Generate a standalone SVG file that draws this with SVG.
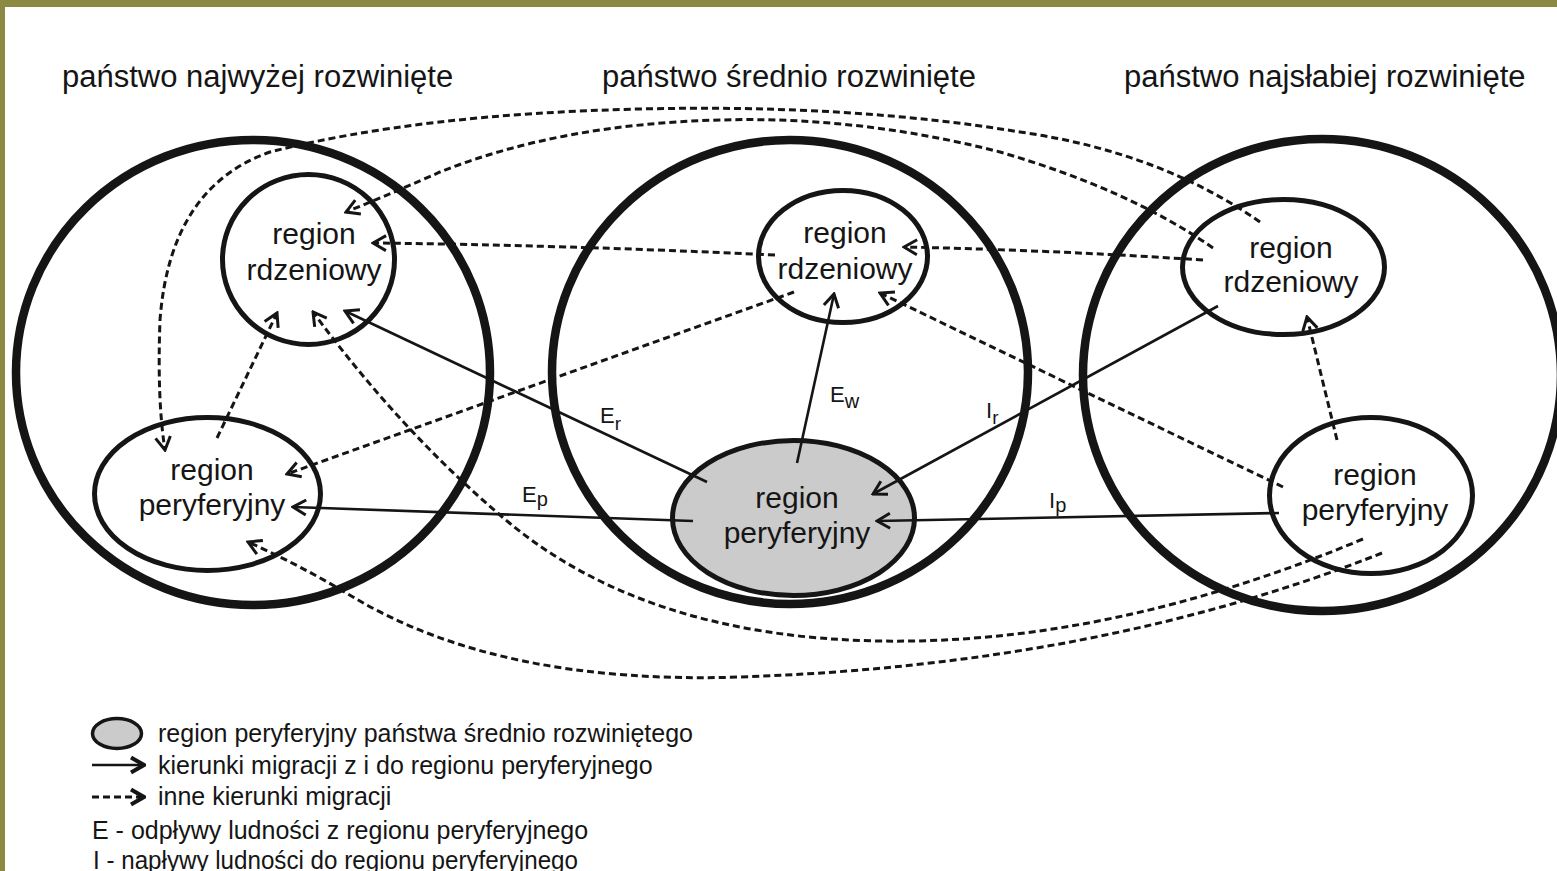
<svg xmlns="http://www.w3.org/2000/svg" width="1557" height="871" viewBox="0 0 1557 871">
<style>
.t{font-family:"Liberation Sans",Arial,sans-serif;fill:#151515}
.title{font-size:31px}
.lbl{font-size:30px;text-anchor:middle}
.sub{font-size:22px}
.leg{font-size:25px}
.big{fill:none;stroke:#151515;stroke-width:8.5}
.reg{fill:none;stroke:#151515;stroke-width:5}
.solid{fill:none;stroke:#151515;stroke-width:2.6}
.dash{fill:none;stroke:#151515;stroke-width:3;stroke-dasharray:7 4}
</style>
<defs>
<marker id="ah" viewBox="-15 -10 17 20" refX="0" refY="0" markerWidth="17" markerHeight="20" markerUnits="userSpaceOnUse" orient="auto">
<path d="M-13,-7.5 L0,0 L-13,7.5" fill="none" stroke="#151515" stroke-width="3" stroke-dasharray="none"/>
</marker>
<marker id="ahb" viewBox="-15 -10 17 20" refX="0" refY="0" markerWidth="17" markerHeight="20" markerUnits="userSpaceOnUse" orient="auto">
<path d="M-13,-7.5 L0,0 L-13,7.5" fill="none" stroke="#151515" stroke-width="4" stroke-dasharray="none"/>
</marker>
</defs>
<rect x="0" y="0" width="1557" height="871" fill="#8c8943"/>
<rect x="5" y="7" width="1552" height="864" fill="#ffffff"/>

<g id="titles">
<text class="t title" x="62" y="87">państwo najwyżej rozwinięte</text>
<text class="t title" x="602" y="87">państwo średnio rozwinięte</text>
<text class="t title" x="1124" y="87">państwo najsłabiej rozwinięte</text>
</g>

<g id="state-high"><ellipse class="big" cx="253" cy="372.5" rx="237" ry="232.5"/></g>
<g id="state-mid"><ellipse class="big" cx="790" cy="372" rx="238" ry="232"/></g>
<g id="state-low"><ellipse class="big" cx="1322" cy="375" rx="239" ry="236"/></g>

<g id="high-core">
<ellipse class="reg" cx="308.5" cy="259.5" rx="86" ry="85"/>
<text class="t lbl" x="314" y="244">region</text>
<text class="t lbl" x="314" y="280">rdzeniowy</text>
</g>
<g id="high-periphery">
<ellipse class="reg" cx="207.5" cy="494" rx="113" ry="76.5"/>
<text class="t lbl" x="212" y="480">region</text>
<text class="t lbl" x="212" y="515">peryferyjny</text>
</g>
<g id="mid-core">
<ellipse class="reg" cx="843" cy="256.5" rx="84.5" ry="66"/>
<text class="t lbl" x="845" y="243">region</text>
<text class="t lbl" x="845" y="279">rdzeniowy</text>
</g>
<g id="mid-periphery">
<ellipse class="reg" cx="793.5" cy="518" rx="121" ry="77.5" style="fill:#cbcbcb"/>
<text class="t lbl" x="797" y="508">region</text>
<text class="t lbl" x="797" y="543">peryferyjny</text>
</g>
<g id="low-core">
<ellipse class="reg" cx="1283.5" cy="267" rx="101" ry="67.5"/>
<text class="t lbl" x="1291" y="258">region</text>
<text class="t lbl" x="1291" y="292">rdzeniowy</text>
</g>
<g id="low-periphery">
<ellipse class="reg" cx="1371" cy="495.5" rx="101.5" ry="78"/>
<text class="t lbl" x="1375" y="485">region</text>
<text class="t lbl" x="1375" y="520">peryferyjny</text>
</g>

<g id="connectors">
<line class="solid" x1="707" y1="482" x2="345" y2="311" marker-end="url(#ah)"/>
<line class="solid" x1="693" y1="521" x2="293" y2="507" marker-end="url(#ah)"/>
<line class="solid" x1="797" y1="463" x2="834" y2="294" marker-end="url(#ah)"/>
<line class="solid" x1="1218" y1="306" x2="873" y2="494" marker-end="url(#ah)"/>
<line class="solid" x1="1279" y1="513" x2="877" y2="521" marker-end="url(#ah)"/>
<path class="dash" d="M1260,222 Q1160,152 1020,132 Q850,104 640,109 Q420,114 270,152 Q170,187 160,320 Q157,400 165,450" marker-end="url(#ah)"/>
<path class="dash" d="M1213,248 Q1130,190 1000,152 Q860,116 720,120 Q560,124 440,172 Q400,190 346,212" marker-end="url(#ah)"/>
<path class="dash" d="M1203,260 Q1050,250 904,247" marker-end="url(#ah)"/>
<path class="dash" d="M775,255 Q560,245 373,243" marker-end="url(#ah)"/>
<line class="dash" x1="794" y1="292" x2="287" y2="474" marker-end="url(#ah)"/>
<line class="dash" x1="1283" y1="487" x2="880" y2="293" marker-end="url(#ah)"/>
<line class="dash" x1="1337" y1="440" x2="1307" y2="317" marker-end="url(#ah)"/>
<line class="dash" x1="217" y1="438" x2="277" y2="313" marker-end="url(#ah)"/>
<path class="dash" d="M1363,539 Q1110,645 880,641 Q640,637 500,515 Q400,430 313,312" marker-end="url(#ah)"/>
<path class="dash" d="M1382,553 Q1100,665 740,677 Q500,685 353,597 Q300,565 248,542" marker-end="url(#ah)"/>
</g>

<g id="flow-labels">
<text class="t sub" x="600" y="423">E<tspan font-size="19" dy="7">r</tspan></text>
<text class="t sub" x="830" y="402">E<tspan font-size="20" dy="6">w</tspan></text>
<text class="t sub" x="522" y="502">E<tspan font-size="20" dy="4">p</tspan></text>
<text class="t sub" x="986" y="418">I<tspan font-size="19" dy="6">r</tspan></text>
<text class="t sub" x="1049" y="508">I<tspan font-size="20" dy="4">p</tspan></text>
</g>

<g id="legend">
<ellipse cx="117" cy="733.5" rx="24.5" ry="15" fill="#cbcbcb" stroke="#151515" stroke-width="3.5"/>
<line class="solid" x1="92" y1="765" x2="144" y2="765" stroke-width="3.2" marker-end="url(#ahb)"/>
<line class="dash" x1="92" y1="797" x2="144" y2="797" stroke-dasharray="5 3" marker-end="url(#ahb)"/>
<text class="t leg" x="158" y="742">region peryferyjny państwa średnio rozwiniętego</text>
<text class="t leg" x="158" y="774">kierunki migracji z i do regionu peryferyjnego</text>
<text class="t leg" x="158" y="805">inne kierunki migracji</text>
<text class="t leg" x="92" y="839">E - odpływy ludności z regionu peryferyjnego</text>
<text class="t leg" x="93" y="869" textLength="485" lengthAdjust="spacingAndGlyphs">I - napływy ludności do regionu peryferyjnego</text>
</g>
</svg>
